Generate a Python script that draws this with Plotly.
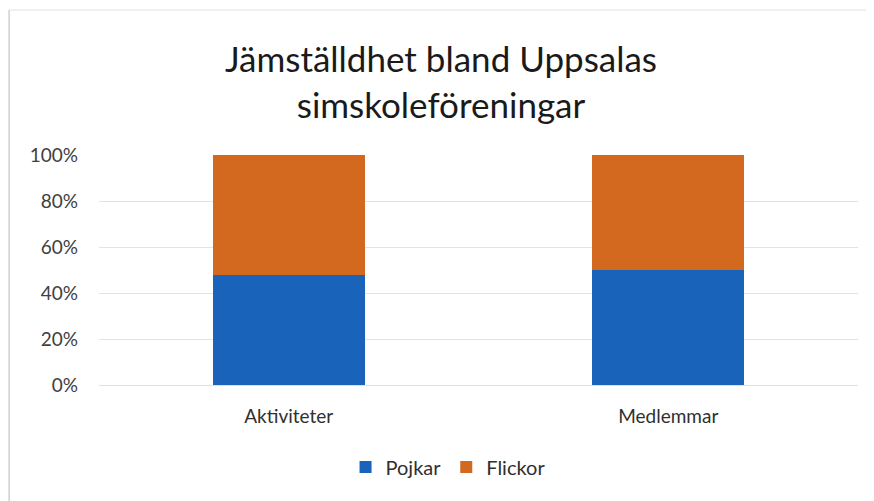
import plotly.graph_objects as go

categories = ["Aktiviteter", "Medlemmar"]
pojkar = [0.48, 0.50]
flickor = [0.52, 0.50]
tick_vals = [0, 0.2, 0.4, 0.6, 0.8, 1.0]
tick_text = ["0%", "20%", "40%", "60%", "80%", "100%"]

FONT = "Lato, 'Open Sans', sans-serif"

fig = go.Figure()
fig.add_trace(go.Bar(name="Pojkar", x=categories, y=pojkar, marker_color="#1964BA",
                     marker_line_width=0, width=0.4))
fig.add_trace(go.Bar(name="Flickor", x=categories, y=flickor, marker_color="#D2691F",
                     marker_line_width=0, width=0.4))

# page body has an 8px margin, so work in coordinates shifted by 8
OFF = 8
W, H = 874 - OFF, 501 - OFF
L, R, T, B = 98.5 - OFF, 15.5, 155 - OFF, 116
pw, ph = W - L - R, H - T - B

def px(xp):
    return (xp - OFF - L) / pw

def py(yp):
    return (H - B - (yp - OFF)) / ph

fig.update_layout(
    barmode="stack",
    width=W, height=H,
    margin=dict(l=L, r=R, t=T, b=B),
    paper_bgcolor="white", plot_bgcolor="white",
    font=dict(family=FONT, color="#404040"),
    title=dict(text="Jämställdhet bland Uppsalas<br>simskoleföreningar",
               x=0.5, xanchor="center", y=1 - (72 - OFF) / H, yanchor="middle",
               font=dict(size=35, color="#1a1a1a", family=FONT)),
    yaxis=dict(range=[0, 1], tickvals=tick_vals, ticktext=tick_text,
               showgrid=True, gridcolor="#e3e3e3", gridwidth=1,
               zeroline=False, showline=False,
               tickfont=dict(size=19, color="#404040"), ticks="",
               ticklabelstandoff=20),
    xaxis=dict(showline=True, linecolor="#e0e0e0", linewidth=1,
               tickfont=dict(size=19, color="#303030"), ticks="",
               ticklabelstandoff=14),
    legend=dict(orientation="h", x=px(448), xanchor="center", y=py(467), yanchor="middle",
                font=dict(size=20, color="#303030"), traceorder="normal",
                itemwidth=30),
    showlegend=True,
    shapes=[
        dict(type="line", xref="paper", yref="paper", x0=px(8.5), x1=px(8.5), y0=py(10), y1=py(501),
             line=dict(color="#d0d0d0", width=1.5)),
        dict(type="line", xref="paper", yref="paper", x0=px(8.5), x1=px(874), y0=py(10), y1=py(10),
             line=dict(color="#e0e0e0", width=1)),
    ],
)

fig.write_html("out.html")
